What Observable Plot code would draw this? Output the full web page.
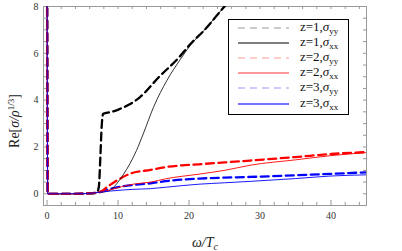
<!DOCTYPE html>
<html>
<head>
<meta charset="utf-8">
<script src="https://cdn.jsdelivr.net/npm/d3@7"></script>
<script src="https://cdn.jsdelivr.net/npm/@observablehq/plot@0.6"></script>
<style>
  body { margin: 0; background: #fff; }
  #wrap { position: relative; width: 402px; height: 251px; }
  #legend { position: absolute; left: 228px; top: 19px; }
  text { font-family: "Liberation Serif", "DejaVu Serif", serif; }
</style>
</head>
<body>
<div id="wrap"></div>
<script>
// ---- data ----
const z1yyW = [0, 0.1, 2, 4, 6, 7, 7.3, 7.5, 7.7, 7.9, 8.5, 9.1, 10.3, 11.5, 13.1, 15.8, 18.6, 20.2, 22.1, 24.9, 26.5];
const z1yyV = [9, 0, 0, 0, 0.02, 0.04, 0.3, 1.5, 2.9, 3.42, 3.47, 3.5, 3.63, 3.8, 4.13, 5.0, 5.83, 6.4, 6.97, 7.97, 8.5];
const z1xxW = [0, 0.1, 2, 4, 6, 7, 8, 8.8, 9.5, 10.7, 11.7, 12.6, 13.6, 15.0, 16.9, 18.8, 20.2, 22.1, 24.9, 26.5];
const z1xxV = [9, 0, 0, 0, 0.02, 0.05, 0.08, 0.14, 0.32, 0.8, 1.3, 1.85, 2.6, 3.7, 4.85, 5.75, 6.35, 6.97, 7.97, 8.5];
const z2yyW = [0, 0.1, 2, 4, 6, 7, 7.5, 8.5, 9.8, 12.1, 14.6, 16.7, 21.4, 25, 28.6, 35, 40, 45];
const z2yyV = [9, 0, 0, 0, 0.02, 0.05, 0.08, 0.3, 0.56, 0.9, 1.02, 1.14, 1.26, 1.34, 1.42, 1.57, 1.70, 1.78];
const z2xxW = [0, 0.1, 2, 4, 6, 7, 7.5, 9, 10.5, 12.1, 14.6, 16.7, 21.4, 25, 28.6, 35, 40, 45];
const z2xxV = [9, 0, 0, 0, 0.02, 0.05, 0.07, 0.18, 0.3, 0.41, 0.5, 0.64, 0.84, 1.0, 1.22, 1.45, 1.63, 1.76];
const z3yyW = [0, 0.1, 2, 4, 6, 7, 7.5, 8.5, 9.8, 12.1, 14.6, 16.7, 21.4, 25, 28.6, 35, 40, 45];
const z3yyV = [9, 0, 0, 0, 0.02, 0.05, 0.08, 0.18, 0.27, 0.38, 0.45, 0.54, 0.65, 0.69, 0.72, 0.79, 0.85, 0.92];
const z3xxW = [0, 0.1, 2, 4, 6, 7, 7.5, 9, 12.1, 14.6, 16.7, 21.4, 25, 28.6, 35, 40, 45];
const z3xxV = [9, 0, 0, 0, 0.02, 0.05, 0.07, 0.12, 0.19, 0.22, 0.28, 0.41, 0.47, 0.53, 0.65, 0.76, 0.81];

const xMajor = [0, 10, 20, 30, 40];
const yMajor = [0, 2, 4, 6, 8];
const legendLabels = ["z=1,", "z=1,", "z=2,", "z=2,", "z=3,", "z=3,"];
const legendSubs = ["yy", "xx", "yy", "xx", "yy", "xx"];

// ---- build ----
const zip = (w, v) => w.map((x, i) => ({w: x, v: v[i]}));
const dashed = "8,4.5";
// drawing order: thick dashed first, thin solid on top
const series = [
  {d: zip(z1yyW, z1yyV), stroke: "#000", width: 2.3, dash: dashed},
  {d: zip(z3yyW, z3yyV), stroke: "#00f", width: 2.3, dash: dashed},
  {d: zip(z2yyW, z2yyV), stroke: "#f00", width: 2.3, dash: dashed},
  {d: zip(z1xxW, z1xxV), stroke: "#000", width: 0.8, dash: null},
  {d: zip(z2xxW, z2xxV), stroke: "#f00", width: 0.9, dash: null},
  {d: zip(z3xxW, z3xxV), stroke: "#00f", width: 0.9, dash: null}
];

const W = 402, H = 251, mL = 43, mR = 36, mT = 6, mB = 46;
const innerH = H - mT - mB, innerW = W - mL - mR;
const xMinor = d3.range(0, 46, 2).filter(v => v % 10 !== 0);
const yMinor = d3.range(0, 8.01, 0.5).filter(v => v % 2 !== 0);
const xTop = d3.range(0, 46, 2);
const yRight = d3.range(-0.5, 8.01, 0.5);
const tickColor = "#999";

const marks = [
  Plot.frame({stroke: tickColor, strokeWidth: 1}),
  Plot.tickX(xMajor, {x: d => d, stroke: tickColor, insetTop: innerH - 5}),
  Plot.tickX(xMinor, {x: d => d, stroke: tickColor, insetTop: innerH - 3}),
  Plot.tickX(xTop, {x: d => d, stroke: tickColor, insetBottom: innerH - 3}),
  Plot.tickY(yMajor, {y: d => d, stroke: tickColor, insetRight: innerW - 5}),
  Plot.tickY(yMinor, {y: d => d, stroke: tickColor, insetRight: innerW - 3}),
  Plot.tickY(yRight, {y: d => d, stroke: tickColor, insetLeft: innerW - 3}),
  Plot.axisX(xMajor, {anchor: "bottom", tickSize: 0, tickPadding: 6, fontSize: 10, fill: "#333", label: null, fontFamily: "Liberation Serif"}),
  Plot.axisY(yMajor, {anchor: "left", tickSize: 0, tickPadding: 5, fontSize: 10, fill: "#333", label: null, fontFamily: "Liberation Serif"}),
  ...series.map(s => Plot.line(s.d, {x: "w", y: "v", stroke: s.stroke, strokeWidth: s.width,
      strokeDasharray: s.dash, curve: "monotone-x", clip: true}))
];

const chart = Plot.plot({
  width: W, height: H,
  marginLeft: mL, marginRight: mR, marginTop: mT, marginBottom: mB,
  style: {fontFamily: "Liberation Serif", background: "#fff"},
  x: {domain: [-0.5, 45], axis: null},
  y: {domain: [-0.5, 8], axis: null},
  marks
});

const svg = d3.select(chart);
const xl = svg.append("text").attr("x", 205).attr("y", 247).attr("text-anchor", "middle")
  .attr("font-size", 14).attr("font-style", "italic").attr("fill", "#222");
xl.append("tspan").text("ω/T");
xl.append("tspan").attr("dy", 3).attr("font-size", 10).text("c");

const yl = svg.append("text").attr("transform", "translate(19,121) rotate(-90)")
  .attr("text-anchor", "middle").attr("font-size", 14).attr("fill", "#222");
yl.append("tspan").text("Re[");
yl.append("tspan").attr("font-style", "italic").text("σ/ρ");
yl.append("tspan").attr("dy", -5).attr("font-size", 9).text("1/3");
yl.append("tspan").attr("dy", 5).text("]");

const wrap = document.getElementById("wrap");
wrap.appendChild(chart);

const legStyles = [
  {stroke: "#999", w: 1, dash: "7,5"},
  {stroke: "#000", w: 1.1, dash: null},
  {stroke: "#f99", w: 1, dash: "7,5"},
  {stroke: "#f99", w: 2, dash: null},
  {stroke: "#99f", w: 1, dash: "7,5"},
  {stroke: "#44f", w: 1.4, dash: null}
];
const rowsY = [9, 24, 39, 54, 69, 85];
const leg = d3.create("svg").attr("id", "legend").attr("width", 121).attr("height", 96);
leg.append("rect").attr("x", 0.5).attr("y", 0.5).attr("width", 120).attr("height", 95)
  .attr("fill", "#fff").attr("stroke", "#000").attr("stroke-width", 1);
legendLabels.forEach((lab, i) => {
  const st = legStyles[i];
  leg.append("line").attr("x1", 10).attr("x2", 61).attr("y1", rowsY[i]).attr("y2", rowsY[i])
    .attr("stroke", st.stroke).attr("stroke-width", st.w).attr("stroke-dasharray", st.dash);
  const t = leg.append("text").attr("x", 72).attr("y", rowsY[i] + 3).attr("font-size", 13).attr("fill", "#111");
  t.append("tspan").text(lab);
  t.append("tspan").attr("font-style", "italic").text("σ");
  t.append("tspan").attr("dy", 3).attr("font-size", 9).text(legendSubs[i]);
});
wrap.appendChild(leg.node());
</script>
</body>
</html>
